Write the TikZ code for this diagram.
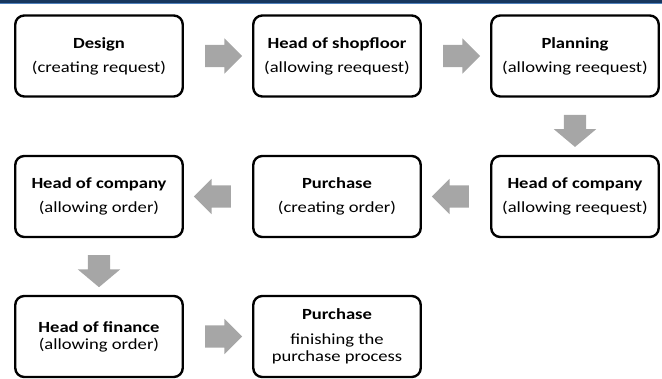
\documentclass[tikz,border=0pt]{standalone}
\usepackage{fontspec}
\setmainfont{Carlito}[FakeStretch=1.2]
\usetikzlibrary{shapes.arrows,calc}
\definecolor{arrowgray}{HTML}{A6A6A6}
\definecolor{barnavy}{HTML}{17375E}
\definecolor{barblue}{HTML}{4F81BD}
\tikzset{
  stepbox/.style={draw=black, line width=2.4pt, rounded corners=9pt, fill=white,
    minimum width=167.5pt, minimum height=81pt, align=center, inner sep=0pt,
    font=\fontsize{15.5}{17}\selectfont},
  blockarrow/.style={single arrow, fill=arrowgray, draw=none, inner xsep=0pt, inner ysep=11pt,
    minimum height=37pt, single arrow head extend=6.5pt,
    single arrow tip angle=90},
  downarrow/.style={blockarrow, rotate=-90, minimum height=32pt, single arrow head extend=10pt,
    single arrow tip angle=100},
}
\begin{document}
\begin{tikzpicture}[x=1pt,y=-1pt]
\useasboundingbox (0,0) rectangle (662,379);
\fill[barnavy] (0,0) rectangle (662,2.6);
\fill[barblue] (0,2.6) rectangle (662,3.6);

\node[stepbox] (b1) at (99,56) {\textbf{Design}\\[7pt](creating request)};
\node[stepbox] (b2) at (337,56) {\textbf{Head of shopfloor}\\[7pt](allowing reequest)};
\node[stepbox] (b3) at (575,56) {\textbf{Planning}\\[7pt](allowing reequest)};
\node[stepbox] (b4) at (99,196.5) {\textbf{Head of company}\\[7pt](allowing order)};
\node[stepbox] (b5) at (337,196.5) {\textbf{Purchase}\\[7pt](creating order)};
\node[stepbox] (b6) at (575,196.5) {\textbf{Head of company}\\[7pt](allowing reequest)};
\node[stepbox] (b7) at (99,336.5) {\textbf{Head of finance}\\(allowing order)};
\node[stepbox] (b8) at (337,336.5) {\textbf{Purchase}\\[8pt]finishing the\\purchase process};

\node[blockarrow] (a12) at ($(b1.east)!0.5!(b2.west)$) {};
\node[blockarrow] (a23) at ($(b2.east)!0.5!(b3.west)$) {};
\node[downarrow] (a36) at ($(b3.south)!0.5!(b6.north)$) {};
\node[blockarrow, rotate=180] (a65) at ($(b6.west)!0.5!(b5.east)$) {};
\node[blockarrow, rotate=180] (a54) at ($(b5.west)!0.5!(b4.east)$) {};
\node[downarrow] (a47) at ($(b4.south)!0.5!(b7.north)$) {};
\node[blockarrow] (a78) at ($(b7.east)!0.5!(b8.west)$) {};
\end{tikzpicture}
\end{document}
